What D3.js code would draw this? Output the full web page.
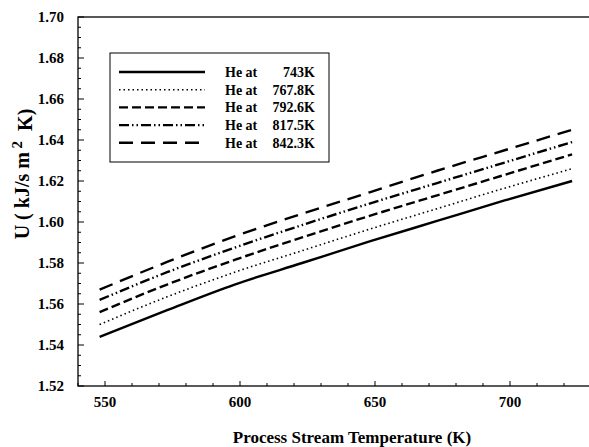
<!DOCTYPE html>
<html><head><meta charset="utf-8">
<script src="https://cdn.jsdelivr.net/npm/d3@7"></script>
<style>body{margin:0;background:#fff}svg{display:block}</style>
</head><body><div id="chart"></div>
<script>
const temps = [548, 573, 598, 623, 648, 673, 698, 723];
const seriesNames = ["743K", "767.8K", "792.6K", "817.5K", "842.3K"];
const u743  = [1.544, 1.557, 1.5695, 1.580, 1.5905, 1.6005, 1.6105, 1.620];
const u7678 = [1.550, 1.5635, 1.5755, 1.586, 1.5965, 1.6065, 1.6165, 1.626];
const u7926 = [1.556, 1.5695, 1.5815, 1.5925, 1.603, 1.613, 1.623, 1.633];
const u8175 = [1.562, 1.5755, 1.5875, 1.5985, 1.609, 1.619, 1.629, 1.639];
const u8423 = [1.567, 1.5805, 1.593, 1.604, 1.6145, 1.625, 1.635, 1.645];
const xTicks = [550, 600, 650, 700];
const yTicks = [1.52, 1.54, 1.56, 1.58, 1.60, 1.62, 1.64, 1.66, 1.68, 1.70];
const dashes = [null, "1.5,3", "9,4", "10,3,1.5,3,1.5,3", "14,8"];

const FONT = '"Liberation Serif", "Times New Roman", Times, "DejaVu Serif", serif';
const W = 589, H = 447;
const svg = d3.select("#chart").append("svg").attr("width", W).attr("height", H)
  .attr("font-family", FONT).attr("font-weight", "bold");
const x = d3.scaleLinear().domain([540, 730]).range([78, 591]);
const y = d3.scaleLinear().domain([1.52, 1.70]).range([386, 17]);

// frame
svg.append("rect").attr("x", 78).attr("y", 17).attr("width", 513).attr("height", 369)
  .attr("fill", "none").attr("stroke", "#000").attr("stroke-width", 1.3);

// y ticks (inward)
const yMinor = d3.range(0, 37).map(i => 1.52 + i * 0.005);
svg.append("g").selectAll("line").data(yMinor).join("line")
  .attr("x1", 78).attr("x2", (d, i) => 78 + (i % 4 === 0 ? 6 : 3))
  .attr("y1", d => y(d)).attr("y2", d => y(d)).attr("stroke", "#000").attr("stroke-width", 1);
svg.append("g").selectAll("text").data(yTicks).join("text")
  .attr("x", 64).attr("y", d => y(d)).attr("dy", "0.35em").attr("text-anchor", "end")
  .attr("font-size", 15).text(d => d3.format(".2f")(d));

// x ticks (inward)
const xMinor = d3.range(540, 731, 10);
svg.append("g").selectAll("line").data(xMinor).join("line")
  .attr("x1", d => x(d)).attr("x2", d => x(d))
  .attr("y1", 386).attr("y2", d => 386 - (d % 50 === 0 ? 5 : 3)).attr("stroke", "#000").attr("stroke-width", 1);
svg.append("g").selectAll("text").data(xTicks).join("text")
  .attr("x", d => x(d)).attr("y", 402).attr("dy", "0.35em").attr("text-anchor", "middle")
  .attr("font-size", 15).text(d => d);

// titles
svg.append("text").attr("x", 352).attr("y", 437).attr("dy", "0.35em").attr("text-anchor", "middle")
  .attr("font-size", 17).text("Process Stream Temperature (K)");
const yt = svg.append("text").attr("transform", "translate(22,174) rotate(-90)")
  .attr("text-anchor", "middle").attr("dy", "0.35em").attr("font-size", 20)
  .attr("xml:space", "preserve");
yt.append("tspan").text("U ( kJ/s m");
yt.append("tspan").attr("dy", "-0.5em").attr("font-size", 15).text(" 2");
yt.append("tspan").attr("dy", "0.5em").text("  K)");

// lines
const allSeries = [u743, u7678, u7926, u8175, u8423];
const line = d3.line().x((d, i) => x(temps[i])).y(d => y(d)).curve(d3.curveMonotoneX);
allSeries.forEach((s, k) => {
  svg.append("path").datum(s).attr("d", line).attr("fill", "none").attr("stroke", "#000")
    .attr("stroke-width", k === 1 ? 1.6 : 2.4)
    .attr("stroke-dasharray", dashes[k]);
});

// legend
svg.append("rect").attr("x", 110).attr("y", 53).attr("width", 219).attr("height", 109)
  .attr("fill", "#fff").attr("stroke", "#000").attr("stroke-width", 1);
seriesNames.forEach((n, k) => {
  const yy = 72 + k * 17.7;
  svg.append("line").attr("x1", 119).attr("x2", 205).attr("y1", yy).attr("y2", yy)
    .attr("stroke", "#000").attr("stroke-width", k === 1 ? 1.6 : 2.4).attr("stroke-dasharray", dashes[k]);
  svg.append("text").attr("x", 225).attr("y", yy).attr("dy", "0.35em").attr("font-size", 14).text("He at");
  svg.append("text").attr("x", 315).attr("y", yy).attr("dy", "0.35em").attr("text-anchor", "end").attr("font-size", 14).text(n);
});
</script></body></html>
